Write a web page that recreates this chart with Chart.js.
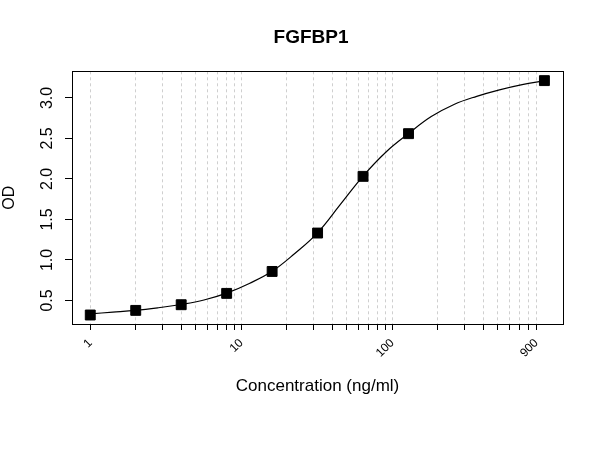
<!DOCTYPE html>
<html>
<head>
<meta charset="utf-8">
<title>FGFBP1</title>
<script src="https://cdn.jsdelivr.net/npm/chart.js@4/dist/chart.umd.min.js"></script>
<style>
  html, body { margin: 0; padding: 0; background: #fff; }
  #chart { display: block; }
</style>
</head>
<body>
<canvas id="chart" width="600" height="450"></canvas>
<script>
// measured standards (ng/ml vs OD)
const concentration = [1, 2, 4, 8, 16, 32, 64, 128, 1016];
const odValues      = [0.32, 0.377, 0.447, 0.587, 0.858, 1.332, 2.032, 2.559, 3.214];

// fitted curve at half-octave steps
const fitConcentration = [1, 1.41, 2, 2.83, 4, 5.66, 8, 11.3, 16, 22.6, 32, 45.3, 64, 90.5, 128, 181, 256, 362, 512, 724, 1016];
const fitOD            = [0.335, 0.355, 0.377, 0.41, 0.45, 0.505, 0.59, 0.71, 0.86, 1.08, 1.335, 1.685, 2.035, 2.33, 2.56, 2.77, 2.92, 3.02, 3.1, 3.165, 3.21];

// axes
const xTicks   = [1, 2, 3, 4, 5, 6, 7, 8, 9, 10, 20, 30, 40, 50, 60, 70, 80, 90, 100, 200, 300, 400, 500, 600, 700, 800, 900];
const xLabeled = [1, 10, 100, 900];
const yTicks   = [0.5, 1.0, 1.5, 2.0, 2.5, 3.0];
const xRange   = [0.757, 1349];
const yRange   = [0.209, 3.329];

const FONT = "'Liberation Sans', Arial, sans-serif";
Chart.defaults.font.family = FONT;
Chart.defaults.color = '#000';

// box around the plot + rotated y tick labels (R style)
const framePlugin = {
  id: 'frame',
  afterDraw(chart) {
    const { ctx, chartArea: a, scales } = chart;
    ctx.save();
    ctx.strokeStyle = '#000';
    ctx.lineWidth = 1;
    const l = Math.round(a.left) + 0.5, t = Math.round(a.top) + 0.5;
    const r = Math.round(a.right) + 0.5, b = Math.round(a.bottom) + 0.5;
    ctx.strokeRect(l, t, r - l, b - t);

    ctx.fillStyle = '#000';
    ctx.font = '16px ' + FONT;
    ctx.textAlign = 'center';
    ctx.textBaseline = 'alphabetic';
    yTicks.forEach(v => {
      const y = scales.y.getPixelForValue(v);
      ctx.save();
      ctx.translate(a.left - 20, y);
      ctx.rotate(-Math.PI / 2);
      ctx.fillText(v.toFixed(1), 0, 0);
      ctx.restore();
    });
    ctx.restore();
  }
};

new Chart(document.getElementById('chart'), {
  type: 'scatter',
  data: {
    datasets: [
      {
        label: 'Standards',
        data: concentration.map((c, i) => ({ x: c, y: odValues[i] })),
        pointStyle: 'rect',
        pointRadius: 7,
        backgroundColor: '#000',
        borderColor: '#000',
        borderWidth: 1,
        showLine: false
      },
      {
        label: 'Fit',
        type: 'line',
        data: fitConcentration.map((c, i) => ({ x: c, y: fitOD[i] })),
        borderColor: '#000',
        borderWidth: 1.2,
        pointRadius: 0,
        tension: 0.4,
        fill: false
      }
    ]
  },
  options: {
    responsive: false,
    animation: false,
    devicePixelRatio: 1,
    layout: { padding: { left: 22, right: 0, top: 0, bottom: 0 } },
    plugins: {
      legend: { display: false },
      tooltip: { enabled: false },
      title: {
        display: true,
        text: 'FGFBP1',
        color: '#000',
        font: { size: 19, weight: 'bold' },
        padding: { top: 26, bottom: 22.5 }
      }
    },
    scales: {
      x: {
        type: 'logarithmic',
        position: 'bottom',
        min: xRange[0],
        max: xRange[1],
        afterBuildTicks: s => { s.ticks = xTicks.map(v => ({ value: v })); },
        afterFit: s => { s.height = 126; },
        ticks: {
          autoSkip: false,
          minRotation: 45,
          maxRotation: 45,
          padding: 6,
          font: { size: 12 },
          color: '#000',
          callback: v => xLabeled.includes(v) ? String(v) : ''
        },
        grid: {
          color: '#cfcfcf',
          lineWidth: 1,
          tickColor: '#000',
          tickLength: 6,
          tickWidth: 1,
          tickBorderDash: []
        },
        border: { color: '#000', width: 1, dash: [3, 3] },
        title: {
          display: true,
          text: 'Concentration (ng/ml)',
          color: '#000',
          font: { size: 17 },
          padding: { top: 0, bottom: 53 }
        }
      },
      y: {
        type: 'linear',
        position: 'left',
        min: yRange[0],
        max: yRange[1],
        afterBuildTicks: s => { s.ticks = yTicks.map(v => ({ value: v })); },
        afterFit: s => { s.width = 50; },
        ticks: { display: false },
        grid: {
          drawOnChartArea: false,
          tickColor: '#000',
          tickLength: 7,
          tickWidth: 1
        },
        border: { color: '#000', width: 1 },
        title: {
          display: true,
          text: 'OD',
          color: '#000',
          font: { size: 16 },
          padding: { top: -21.6, bottom: 0 }
        }
      },
      y2: {
        type: 'linear',
        position: 'right',
        display: true,
        afterFit: s => { s.width = 37; },
        ticks: { display: false },
        grid: { display: false },
        border: { display: false }
      }
    }
  },
  plugins: [framePlugin]
});
</script>
</body>
</html>
